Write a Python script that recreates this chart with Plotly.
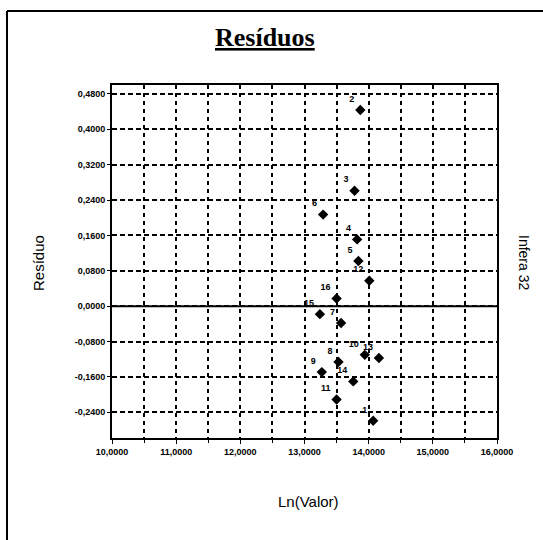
import plotly.graph_objects as go

# Data
point_ids = ["1", "2", "3", "4", "5", "6", "7", "8", "9", "10", "11", "12", "13", "14", "15", "16"]
ln_valor = [14.07, 13.87, 13.78, 13.82, 13.84, 13.29, 13.57, 13.53, 13.27, 13.94, 13.50, 14.01, 14.16, 13.76, 13.24, 13.50]
residuo = [-0.259, 0.4435, 0.261, 0.151, 0.102, 0.207, -0.038, -0.126, -0.149, -0.110, -0.211, 0.0575, -0.117, -0.170, -0.018, 0.0174]

x_tick_vals = [10, 11, 12, 13, 14, 15, 16]
x_tick_text = ["10,0000", "11,0000", "12,0000", "13,0000", "14,0000", "15,0000", "16,0000"]
y_tick_vals = [0.48, 0.40, 0.32, 0.24, 0.16, 0.08, 0.0, -0.08, -0.16, -0.24]
y_tick_text = ["0,4800", "0,4000", "0,3200", "0,2400", "0,1600", "0,0800", "0,0000", "-0,0800", "-0,1600", "-0,2400"]

W, H = 543, 540
L, R, T, B = 112, 46, 85, 102
pw, ph = W - L - R, H - T - B

def px_x(p):
    return (p - L) / pw

def px_y(p):
    return (H - B - p) / ph

fig = go.Figure()
fig.add_trace(go.Scatter(
    x=ln_valor, y=residuo, mode="markers+text",
    text=point_ids, textposition="top left",
    textfont=dict(family="Arial", size=9, color="black", weight="bold"),
    marker=dict(symbol="diamond", size=8, color="black"),
    showlegend=False, cliponaxis=False,
))

fig.add_shape(type="line", xref="x", yref="y", x0=10, x1=16, y0=0, y1=0,
              line=dict(color="black", width=2))

# Outer frame (only left and top edges are visible)
fig.add_shape(type="line", xref="paper", yref="paper",
              x0=px_x(7), x1=px_x(7), y0=px_y(540), y1=px_y(11),
              line=dict(color="black", width=2))
fig.add_shape(type="line", xref="paper", yref="paper",
              x0=px_x(7), x1=px_x(543), y0=px_y(11), y1=px_y(11),
              line=dict(color="black", width=2))

ann = dict(xref="paper", yref="paper", showarrow=False, xanchor="center", yanchor="middle")
fig.add_annotation(text="<b><u>Resíduos</u></b>", x=px_x(265), y=px_y(38),
                   font=dict(family="Liberation Serif", size=26, color="black"), **ann)
fig.add_annotation(text="Resíduo", x=px_x(38), y=px_y(263), textangle=-90,
                   font=dict(family="Arial", size=15, color="black"), **ann)
fig.add_annotation(text="Infera 32", x=px_x(524), y=px_y(262), textangle=90,
                   font=dict(family="Arial", size=14, color="black"), **ann)
fig.add_annotation(text="Ln(Valor)", x=px_x(308), y=px_y(501),
                   font=dict(family="Arial", size=15, color="black"), **ann)

fig.update_xaxes(range=[10, 16], tickvals=x_tick_vals, ticktext=x_tick_text,
                 tickfont=dict(family="Arial", size=9, color="black", weight="bold"),
                 showgrid=True, gridcolor="black", griddash="4px,4px", gridwidth=1.5,
                 minor=dict(dtick=0.5, tick0=10, showgrid=True, gridcolor="black",
                            griddash="4px,4px", gridwidth=1.5, ticks="outside", ticklen=3,
                            tickcolor="black"),
                 ticks="outside", ticklen=4, tickcolor="black",
                 showline=True, linecolor="black", linewidth=2, mirror=True,
                 zeroline=False)
fig.update_yaxes(range=[-0.298, 0.50], tickvals=y_tick_vals, ticktext=y_tick_text,
                 tickfont=dict(family="Arial", size=9, color="black", weight="bold"),
                 showgrid=True, gridcolor="black", griddash="5px,3px", gridwidth=1.5,
                 ticks="outside", ticklen=3, tickcolor="black",
                 showline=True, linecolor="black", linewidth=2, mirror=True,
                 zeroline=False)

fig.update_layout(width=W, height=H, margin=dict(l=L, r=R, t=T, b=B),
                  paper_bgcolor="white", plot_bgcolor="white", showlegend=False)

fig.write_html("out.html", config={"displayModeBar": False},
               post_script="document.body.style.margin='0';document.body.style.overflow='hidden';")
